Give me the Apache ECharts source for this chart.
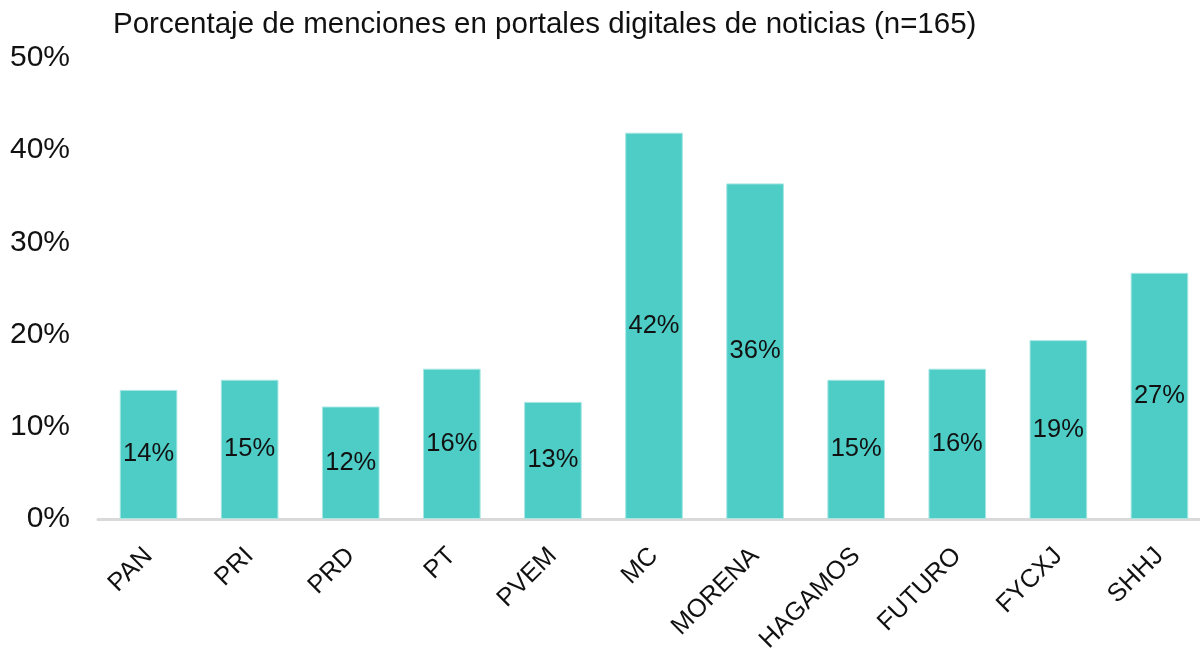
<!DOCTYPE html>
<html>
<head>
<meta charset="utf-8">
<script src="https://cdn.jsdelivr.net/npm/echarts@6/dist/echarts.min.js"></script>
<style>
  html, body { margin: 0; padding: 0; background: #fff; }
  #chart { width: 1200px; height: 649px; }
</style>
</head>
<body>
<div id="chart"></div>
<script>
  // partidos y porcentaje de menciones
  var partidos = ['PAN', 'PRI', 'PRD', 'PT', 'PVEM', 'MC', 'MORENA', 'HAGAMOS', 'FUTURO', 'FYCXJ', 'SHHJ'];
  var menciones = [14.0, 15.1, 12.2, 16.3, 12.7, 41.9, 36.4, 15.1, 16.3, 19.4, 26.7];
  var titulo = 'Porcentaje de menciones en portales digitales de noticias (n=165)';

  var fuente = '"Liberation Sans", Arial, sans-serif';

  var myChart = echarts.init(document.getElementById('chart'));
  var option = {
    animation: false,
    title: {
      text: titulo,
      left: 108,
      top: 5,
      textStyle: {
        fontFamily: fuente,
        fontSize: 29.5,
        fontWeight: 'normal',
        color: '#111'
      }
    },
    grid: {
      left: 98,
      right: -10,
      top: 58,
      bottom: 130,
      containLabel: false,
      outerBoundsMode: 'none'
    },
    xAxis: {
      type: 'category',
      data: partidos,
      axisLine: {
        lineStyle: { color: '#d9d9d9', width: 3 }
      },
      axisTick: { show: false },
      axisLabel: {
        rotate: 45,
        margin: 33,
        fontFamily: fuente,
        fontSize: 25.5,
        color: '#111'
      }
    },
    yAxis: {
      type: 'value',
      min: 0,
      max: 50,
      interval: 10,
      splitLine: { show: false },
      axisLine: { show: false },
      axisTick: { show: false },
      axisLabel: {
        margin: 28,
        formatter: '{value}%',
        fontFamily: fuente,
        fontSize: 30,
        color: '#111'
      }
    },
    series: [{
      type: 'bar',
      data: menciones,
      barWidth: '57%',
      itemStyle: {
        color: '#4ecdc7',
        borderColor: '#a6e6e3',
        borderWidth: 1
      },
      label: {
        show: true,
        position: 'inside',
        fontFamily: fuente,
        fontSize: 25.5,
        color: '#111',
        formatter: function (p) {
          return Math.round(p.value) + '%';
        }
      }
    }]
  };
  myChart.setOption(option);
</script>
</body>
</html>
